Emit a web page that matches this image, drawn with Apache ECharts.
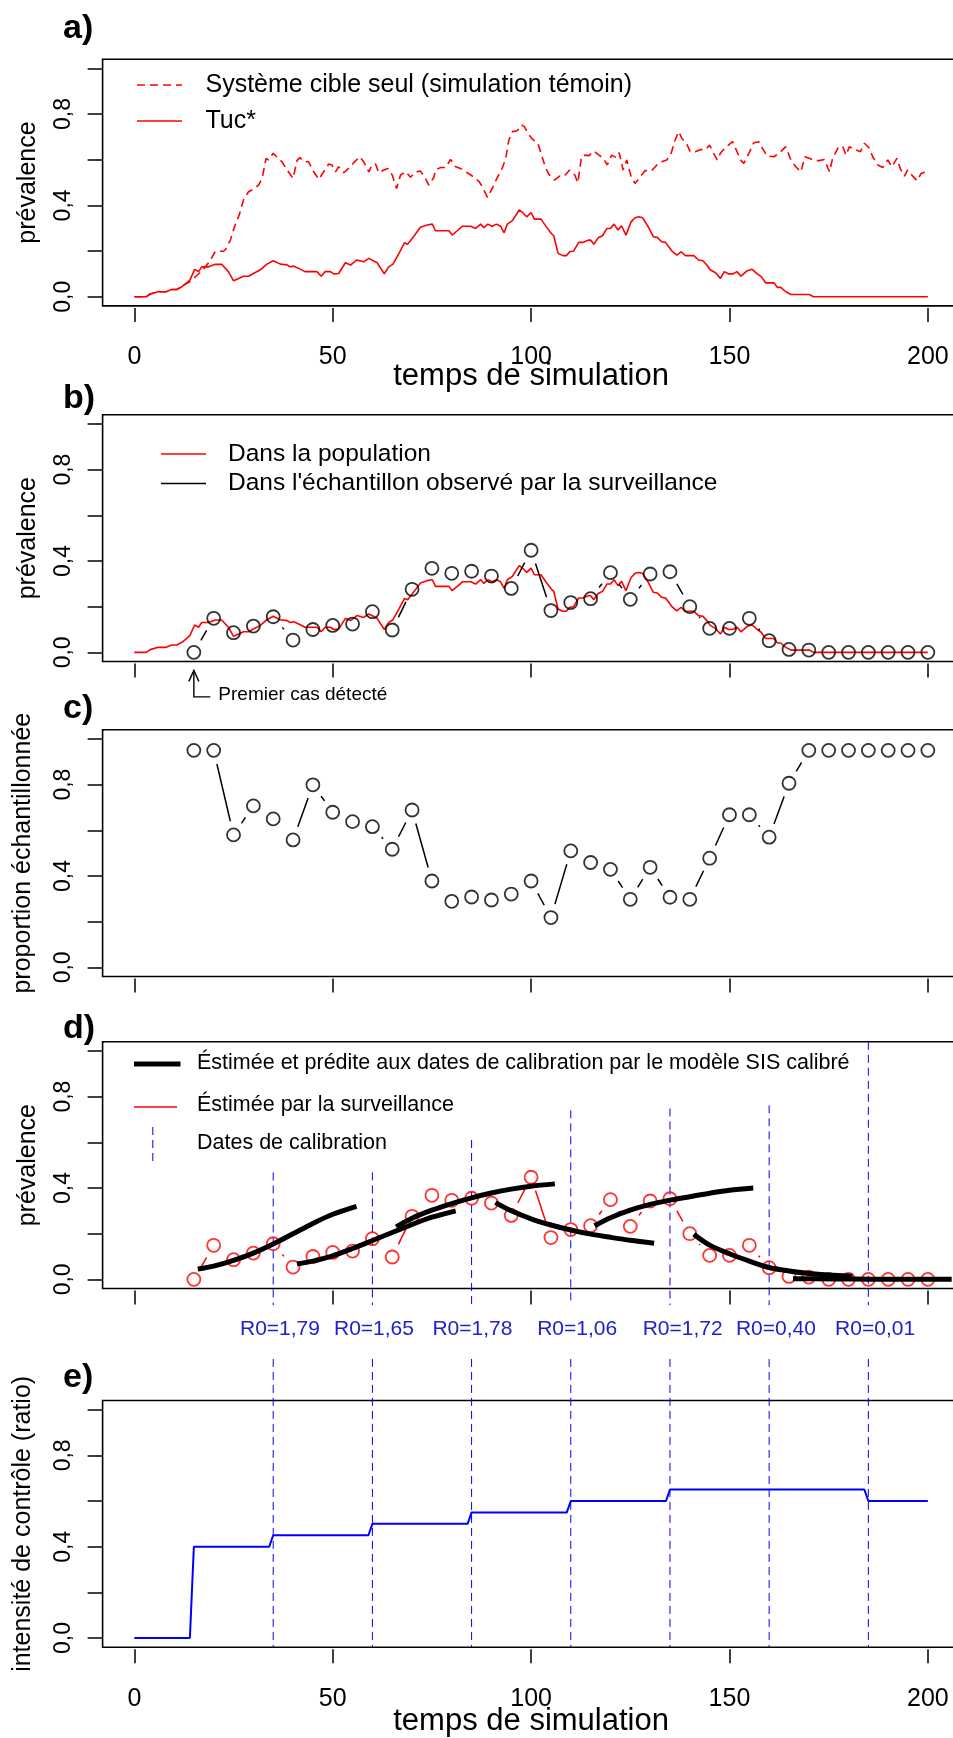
<!DOCTYPE html>
<html><head><meta charset="utf-8">
<script src="https://cdn.jsdelivr.net/npm/echarts@6/dist/echarts.min.js"></script>
<style>html,body{margin:0;padding:0;background:#fff}#c{width:953px;height:1738px}</style>
</head><body><div id="c"></div>
<script>
const FONT = '"Liberation Sans", Arial, Helvetica, sans-serif';

// ---- data ----
const temoin = [[0,0],[3,0],[4,0.012],[6,0.022],[8,0.022],[9.4,0.032],[10.7,0.032],[12.4,0.051],[14,0.066],[15.7,0.092],[17.4,0.12],[19.1,0.158],[20.4,0.199],[22.5,0.199],[23.1,0.21],[24.2,0.248],[25.4,0.314],[26.5,0.362],[27.5,0.423],[28.8,0.46],[30.2,0.472],[31.3,0.489],[32.2,0.518],[33.2,0.606],[33.8,0.599],[35,0.628],[35.9,0.613],[37.2,0.591],[38.5,0.555],[40,0.518],[41,0.596],[41.7,0.609],[42.8,0.591],[43.9,0.591],[45.2,0.547],[46.5,0.514],[47.7,0.547],[49,0.581],[49.8,0.577],[50.7,0.547],[51.5,0.569],[52.8,0.543],[54,0.562],[55.3,0.587],[56.8,0.613],[57.8,0.591],[59.1,0.547],[59.9,0.577],[60.8,0.581],[61.6,0.543],[62.9,0.555],[63.9,0.562],[65,0.533],[66.1,0.474],[67.1,0.533],[68.4,0.547],[69.6,0.523],[70.9,0.547],[72.1,0.55],[73.4,0.518],[74.2,0.489],[75.5,0.523],[75.9,0.555],[77.2,0.566],[78.5,0.566],[79.7,0.601],[81,0.569],[82.2,0.562],[83.5,0.547],[84.8,0.533],[86,0.518],[86.9,0.504],[87.7,0.482],[89,0.435],[90.2,0.474],[91.5,0.523],[92.8,0.566],[93.6,0.606],[94.4,0.686],[95.3,0.723],[96.5,0.727],[97.6,0.752],[98.3,0.745],[99.2,0.715],[100.4,0.689],[101.7,0.672],[102.5,0.628],[103.6,0.566],[104.6,0.533],[105.9,0.511],[107.2,0.528],[108.4,0.528],[109.7,0.555],[111,0.533],[111.8,0.499],[112.7,0.613],[113.5,0.62],[114.6,0.618],[115.8,0.638],[116.9,0.623],[118.2,0.606],[119.2,0.577],[120.3,0.62],[121.5,0.609],[122.2,0.631],[123.2,0.555],[124.1,0.599],[125.2,0.526],[126.2,0.496],[127.4,0.523],[128.7,0.552],[130.4,0.552],[131.7,0.577],[132.9,0.591],[134.2,0.599],[135.2,0.623],[136.3,0.686],[137.2,0.723],[138,0.693],[139.1,0.674],[140.1,0.635],[141.4,0.635],[142.7,0.645],[143.9,0.643],[145,0.664],[146,0.628],[146.9,0.599],[147.7,0.628],[149,0.654],[150.8,0.679],[151.9,0.635],[152.8,0.599],[153.6,0.584],[154.9,0.628],[156.1,0.674],[157.4,0.679],[158.3,0.65],[159.5,0.616],[161.2,0.613],[162.9,0.635],[164.2,0.657],[165.3,0.606],[166.7,0.569],[168,0.547],[169,0.613],[170.1,0.606],[171.4,0.596],[172.6,0.596],[173.9,0.601],[175.2,0.547],[176,0.606],[177.3,0.65],[178.5,0.66],[179.4,0.62],[180.2,0.657],[181.5,0.645],[183,0.635],[184,0.672],[185.3,0.65],[186.1,0.613],[187.4,0.577],[188.6,0.566],[189.9,0.599],[190.9,0.569],[192.2,0.606],[193.2,0.555],[194.1,0.528],[194.9,0.555],[196.2,0.528],[197.3,0.508],[198.3,0.54],[200,0.55]];

const tuc = [[0,0],[3,0],[4,0.012],[6,0.022],[8,0.022],[9.4,0.032],[10.7,0.032],[12,0.044],[13.2,0.061],[14,0.073],[15.2,0.12],[16.2,0.11],[17,0.131],[18.7,0.131],[20.4,0.142],[22,0.142],[23.7,0.11],[25,0.07],[26.3,0.08],[27.5,0.09],[28.8,0.09],[30,0.102],[31.7,0.117],[33.4,0.143],[35,0.158],[36.8,0.143],[38.5,0.139],[39.3,0.131],[40.2,0.134],[41.8,0.121],[43,0.11],[46,0.11],[47.1,0.09],[48.1,0.11],[49.4,0.11],[50.3,0.1],[51.5,0.102],[53.2,0.149],[54.5,0.139],[56.1,0.161],[57.8,0.153],[59.1,0.168],[61.2,0.149],[63,0.1],[64.1,0.131],[65.2,0.143],[66.7,0.19],[68.1,0.236],[68.9,0.23],[70.5,0.266],[72.1,0.304],[73.8,0.314],[75.1,0.318],[75.9,0.289],[78,0.289],[79.3,0.289],[80.1,0.27],[81.4,0.289],[82.7,0.309],[84.8,0.309],[86,0.299],[87.3,0.318],[88.1,0.302],[89.1,0.318],[90.2,0.309],[91.3,0.318],[92.3,0.309],[93.2,0.28],[94,0.318],[95.3,0.333],[97,0.38],[97.9,0.368],[98.9,0.35],[100,0.369],[100.8,0.34],[102.5,0.34],[103.8,0.307],[105.1,0.277],[105.7,0.267],[106.8,0.19],[108,0.18],[108.9,0.18],[109.7,0.197],[110.7,0.2],[112,0.238],[113.1,0.238],[114.4,0.248],[115,0.248],[115.8,0.23],[116.9,0.258],[118,0.267],[119.1,0.299],[120,0.299],[120.9,0.318],[121.9,0.292],[122.8,0.311],[123.9,0.27],[125.2,0.328],[126.2,0.346],[127.2,0.35],[128.1,0.346],[129.6,0.304],[130.8,0.263],[131.8,0.26],[132.9,0.241],[133.9,0.238],[135.5,0.2],[136.7,0.182],[137.8,0.197],[138.9,0.18],[141,0.18],[142.2,0.161],[143.3,0.158],[144.3,0.139],[145.2,0.117],[146.5,0.105],[147.7,0.08],[148.7,0.11],[149.8,0.1],[150.8,0.1],[151.9,0.11],[152.9,0.09],[154.5,0.114],[155.7,0.12],[157,0.1],[158,0.088],[159.1,0.061],[161.2,0.061],[162.1,0.041],[162.9,0.041],[164.2,0.022],[165.5,0.01],[170.1,0.01],[171.2,0],[200,0]];

const survT = [15,20,25,30,35,40,45,50,55,60,65,70,75,80,85,90,95,100,105,110,115,120,125,130,135,140,145,150,155,160,165,170,175,180,185,190,195,200];
const survV = [0,0.149,0.086,0.115,0.156,0.054,0.10,0.118,0.124,0.178,0.098,0.276,0.368,0.346,0.355,0.334,0.28,0.447,0.183,0.218,0.235,0.349,0.232,0.343,0.353,0.20,0.105,0.105,0.149,0.051,0.013,0.01,0,0,0,0,0,0];
const propV = [0.95,0.95,0.58,0.707,0.65,0.558,0.799,0.679,0.638,0.616,0.517,0.689,0.378,0.289,0.308,0.295,0.321,0.378,0.218,0.51,0.459,0.429,0.298,0.438,0.307,0.298,0.478,0.668,0.668,0.57,0.806,0.95,0.95,0.95,0.95,0.95,0.95,0.95];

const sis1 = [[16,0.045],[20,0.058],[25,0.083],[30,0.115],[35,0.155],[40,0.20],[45,0.245],[50,0.285],[56,0.32]];
const sis2 = [[41,0.067],[45,0.08],[50,0.103],[55,0.135],[60,0.17],[65,0.205],[70,0.24],[75,0.272],[81,0.30]];
const sis3 = [[66,0.23],[70,0.268],[75,0.303],[80,0.332],[85,0.357],[90,0.378],[95,0.395],[100,0.408],[106,0.418]];
const sis4 = [[91,0.336],[95,0.30],[100,0.265],[105,0.238],[110,0.216],[115,0.198],[120,0.184],[125,0.171],[131,0.158]];
const sis5 = [[116,0.235],[120,0.27],[125,0.303],[130,0.328],[135,0.347],[140,0.362],[145,0.377],[150,0.39],[156,0.40]];
const sis6 = [[141,0.198],[145,0.15],[150,0.112],[155,0.08],[160,0.052],[165,0.037],[170,0.026],[175,0.019],[181,0.014]];
const sis7 = [[166,0.003],[176,0.002],[186,0.001],[196,0.001],[206,0.001]];

const calibDates = [35,60,85,110,135,160,185];
const calibTopD = [0.468,0.468,0.61,0.74,0.748,0.762,1.04];
const r0Labels = ['R0=1,79','R0=1,65','R0=1,78','R0=1,06','R0=1,72','R0=0,40','R0=0,01'];
const r0X = [36.7,60.4,85.2,111.6,138.2,161.7,186.7];

const ctrlT = [0,14,15,34,35,59,60,84,85,109,110,134,135,184,185,200];
const ctrlV = [0,0,0.4,0.4,0.45,0.45,0.5,0.5,0.55,0.55,0.6,0.6,0.65,0.65,0.6,0.6];

const xTicks = [0,50,100,150,200];
const yTicks = [0,0.2,0.4,0.6,0.8,1.0];
const yLabelVals = [0,0.4,0.8];

// ---- layout ----
const GRID_LEFT = 102.6, GRID_W = 857, GRID_H = 246.7;
const GRID_TOPS = [59.2, 414.8, 729.8, 1041.8, 1400.5];
const RED = '#ff0000', BLUE = '#0000ff';

const grids = GRID_TOPS.map(t => ({left: GRID_LEFT, top: t, width: GRID_W, height: GRID_H,
  show: true, borderColor: '#000', borderWidth: 1.6, backgroundColor: 'transparent', containLabel: false, outerBoundsMode: 'none'}));

function xAx(i, labels, nameGap) {
  return {type: 'value', gridIndex: i, min: -8, max: 208, offset: 2,
    axisLine: {show: false, onZero: false},
    axisTick: {show: true, customValues: xTicks, length: 14, lineStyle: {color: '#000', width: 1.5}},
    axisLabel: {show: labels, customValues: xTicks, fontSize: 25, color: '#000', fontFamily: FONT, margin: 37},
    splitLine: {show: false},
    name: labels ? 'temps de simulation' : '', nameLocation: 'middle', nameGap: nameGap || 50,
    nameMoveOverlap: false,
    nameTextStyle: {fontSize: 31, color: '#000', fontFamily: FONT}};
}
function yAx(i, name, gap) {
  return {type: 'value', gridIndex: i, min: -0.04, max: 1.04,
    axisLine: {show: false, onZero: false},
    axisTick: {show: true, customValues: yTicks, length: 15, lineStyle: {color: '#000', width: 1.5}},
    axisLabel: {customValues: yLabelVals, rotate: 90, fontSize: 23, margin: 27.5, color: '#000', fontFamily: FONT,
      formatter: v => Number(v).toFixed(1).replace('.', ',')},
    splitLine: {show: false},
    name: name, nameLocation: 'middle', nameRotate: 90, nameGap: gap, nameMoveOverlap: false,
    nameTextStyle: {fontSize: 25, color: '#000', fontFamily: FONT}};
}

const GAP = 14;
function bLines(gi, xs, ys, color) {
  const pts = xs.map((x, i) => [x, ys[i]]);
  return {type: 'custom', xAxisIndex: gi, yAxisIndex: gi, data: pts, silent: true, z: 3,
    renderItem(params, api) {
      const i = params.dataIndex;
      if (i >= pts.length - 1) return {type: 'group', children: []};
      const p1 = api.coord(pts[i]), p2 = api.coord(pts[i + 1]);
      const dx = p2[0] - p1[0], dy = p2[1] - p1[1], L = Math.hypot(dx, dy);
      if (L <= 2 * GAP + 1) return {type: 'group', children: []};
      const ux = dx / L, uy = dy / L;
      return {type: 'line', shape: {x1: p1[0] + ux * GAP, y1: p1[1] + uy * GAP, x2: p2[0] - ux * GAP, y2: p2[1] - uy * GAP},
        style: {stroke: color, lineWidth: 1.5}};
    }};
}
function circles(gi, xs, ys, color) {
  return {type: 'scatter', xAxisIndex: gi, yAxisIndex: gi, data: xs.map((x, i) => [x, ys[i]]),
    symbol: 'circle', symbolSize: 13, silent: true, z: 4,
    itemStyle: {color: 'rgba(0,0,0,0)', borderColor: color, borderWidth: 1.8}};
}
function calibLines(gi, tops, bottom) {
  return {type: 'custom', xAxisIndex: gi, yAxisIndex: gi, clip: false, silent: true, z: 1,
    data: calibDates.map((d, i) => [d, tops[i]]),
    renderItem(params, api) {
      const x = api.value(0), t = api.value(1);
      const p1 = api.coord([x, t]), p2 = api.coord([x, bottom]);
      return {type: 'line', shape: {x1: p1[0], y1: p1[1], x2: p2[0], y2: p2[1]},
        style: {stroke: BLUE, lineWidth: 1, lineDash: [8, 5]}};
    }};
}
function redLine(gi, data, dashed) {
  return {type: 'line', xAxisIndex: gi, yAxisIndex: gi, data: data, showSymbol: false, silent: true, z: 2,
    lineStyle: {color: RED, width: 1.6, type: dashed ? [8, 5] : 'solid'}};
}

const series = [
  // a)
  redLine(0, temoin, true),
  redLine(0, tuc, false),
  // b)
  redLine(1, tuc, false),
  bLines(1, survT, survV, '#000'),
  circles(1, survT, survV, '#000'),
  {type: 'custom', xAxisIndex: 1, yAxisIndex: 1, clip: false, silent: true, data: [[survT[0], 0]],
    renderItem(params, api) {
      const p = api.coord([api.value(0), api.value(1)]);
      const x = p[0], tip = p[1] + 18, bot = p[1] + 44.5;
      return {type: 'group', children: [
        {type: 'polyline', shape: {points: [[x, tip], [x, bot], [x + 16.5, bot]]}, style: {stroke: '#000', lineWidth: 1.4, fill: null}},
        {type: 'polyline', shape: {points: [[x - 5, tip + 11], [x, tip], [x + 5, tip + 11]]}, style: {stroke: '#000', lineWidth: 1.4, fill: null}},
        {type: 'text', x: x + 24.5, y: bot - 2.5, style: {text: 'Premier cas détecté', fontSize: 19, fontFamily: FONT, fill: '#000', align: 'left', verticalAlign: 'middle'}}
      ]};
    }},
  // c)
  bLines(2, survT, propV, '#000'),
  circles(2, survT, propV, '#000'),
  // d)
  calibLines(3, calibTopD, -0.113),
  bLines(3, survT, survV, RED),
  circles(3, survT, survV, RED),
  ...[sis1, sis2, sis3, sis4, sis5, sis6, sis7].map(s => ({type: 'line', xAxisIndex: 3, yAxisIndex: 3, data: s,
    smooth: 0.3, showSymbol: false, silent: true, z: 5, lineStyle: {color: '#000', width: 5, cap: 'butt'}})),
  {type: 'custom', xAxisIndex: 3, yAxisIndex: 3, clip: false, silent: true, data: r0X.map(x => [x, 0]),
    renderItem(params, api) {
      const p = api.coord([api.value(0), 0]);
      return {type: 'text', x: p[0], y: p[1] + 50, style: {text: r0Labels[params.dataIndex], fontSize: 21, fontFamily: FONT,
        fill: '#2020d0', align: 'center', verticalAlign: 'middle'}};
    }},
  // e)
  calibLines(4, calibDates.map(() => 1.222), -0.04),
  {type: 'line', xAxisIndex: 4, yAxisIndex: 4, data: ctrlT.map((t, i) => [t, ctrlV[i]]), showSymbol: false, silent: true, z: 3,
    lineStyle: {color: BLUE, width: 2}}
];

function T(x, y, text, size, opts) {
  return Object.assign({type: 'text', x: x, y: y, silent: true,
    style: Object.assign({text: text, fontSize: size, fontFamily: FONT, fill: '#000', align: 'left', verticalAlign: 'middle'}, opts || {})});
}
function L(x1, y1, x2, y2, color, w, dash) {
  return {type: 'line', silent: true, shape: {x1, y1, x2, y2}, style: {stroke: color, lineWidth: w, lineDash: dash || null}};
}
const graphics = [
  T(63, 28.5, 'a)', 34, {fontWeight: 'bold'}),
  T(63, 398.5, 'b)', 34, {fontWeight: 'bold'}),
  T(63, 709, 'c)', 34, {fontWeight: 'bold'}),
  T(63, 1028.5, 'd)', 34, {fontWeight: 'bold'}),
  T(63, 1378, 'e)', 34, {fontWeight: 'bold'}),
  // legend a
  L(137, 85, 182, 85, RED, 1.6, [8, 5]),
  T(205.5, 85, 'Système cible seul (simulation témoin)', 25),
  L(137, 121, 182, 121, RED, 1.6),
  T(205.5, 121, 'Tuc*', 25),
  // legend b
  L(161, 454, 206, 454, RED, 1.6),
  T(228, 454, 'Dans la population', 24.5),
  L(161, 483.5, 206, 483.5, '#000', 1.6),
  T(228, 483.5, "Dans l'échantillon observé par la surveillance", 24.5),
  // legend d
  L(134, 1064, 180.5, 1064, '#000', 5),
  T(197, 1063, 'Éstimée et prédite aux dates de calibration par le modèle SIS calibré', 21.5),
  L(134, 1107, 177, 1107, RED, 1.6),
  T(197, 1105, 'Éstimée par la surveillance', 21.5),
  L(152.8, 1127, 152.8, 1163, BLUE, 1, [8, 5]),
  T(197, 1143, 'Dates de calibration', 21.5)
];

const option = {
  animation: false,
  backgroundColor: '#fff',
  textStyle: {fontFamily: FONT},
  grid: grids,
  xAxis: [xAx(0, true, 53), xAx(1, false), xAx(2, false), xAx(3, false), xAx(4, true, 57)],
  yAxis: [yAx(0, 'prévalence', 62), yAx(1, 'prévalence', 62), yAx(2, 'proportion échantillonnée', 67),
          yAx(3, 'prévalence', 62), yAx(4, 'intensité de contrôle (ratio)', 67)],
  series: series,
  graphic: {elements: graphics}
};
const chart = echarts.init(document.getElementById('c'), null, {renderer: 'canvas'});
chart.setOption(option);
</script></body></html>
